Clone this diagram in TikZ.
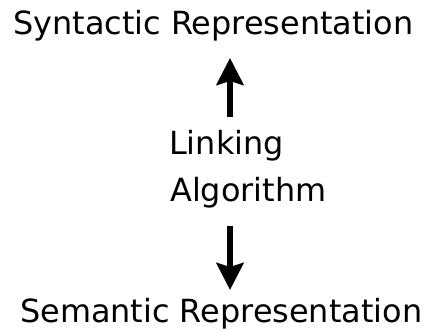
\documentclass[tikz,border=0pt]{standalone}
\usepackage{fontspec}
\setmainfont{DejaVu Sans}
\usetikzlibrary{arrows.meta}
\begin{document}
\begin{tikzpicture}[x=1pt,y=1pt,
  label/.style={inner sep=0pt,font=\fontsize{31.9}{44}\selectfont},
  arrow/.style={draw,line width=6pt,-{Stealth[length=27pt,width=27pt,inset=4pt]}}]
\useasboundingbox (0,0) rectangle (428,331);
\node[label,anchor=base west] at (13,296) (syn) {Syntactic Representation};
\node[label,anchor=base west] at (20,8) (sem) {Semantic Representation};
\node[label,anchor=base west] at (169,176) (link) {Linking};
\node[label,anchor=base west] at (170,129) (algo) {Algorithm};
\coordinate (upfoot) at (230,214);
\coordinate (uptip) at (230,273);
\coordinate (downfoot) at (230,105);
\coordinate (downtip) at (230,41);
\draw[arrow] (upfoot) to (uptip);
\draw[arrow] (downfoot) to (downtip);
\end{tikzpicture}
\end{document}
